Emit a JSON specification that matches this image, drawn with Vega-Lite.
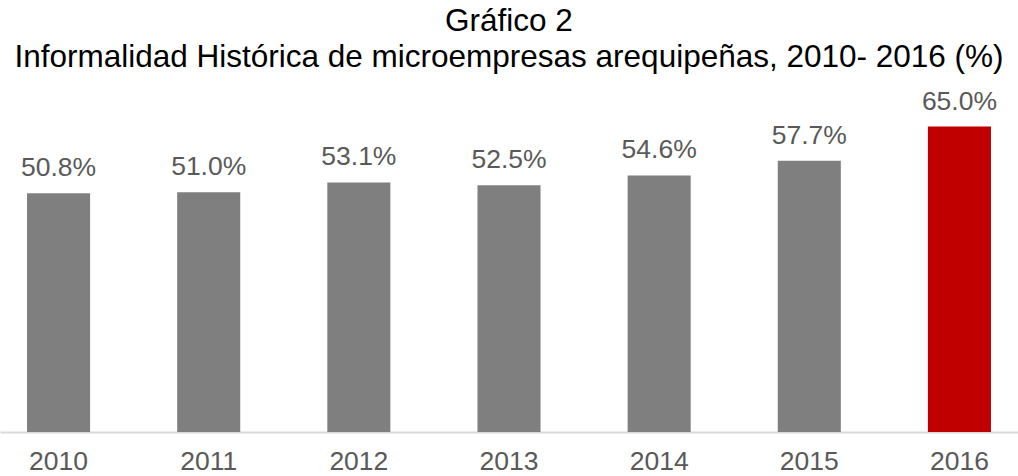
{
  "$schema": "https://vega.github.io/schema/vega-lite/v6.json",
  "autosize": "none",
  "width": 1018,
  "height": 329,
  "padding": {"left": 0, "top": 103, "right": 0, "bottom": 44},
  "background": "white",
  "config": {"view": {"stroke": null}, "font": "Liberation Sans"},
  "title": {
    "text": ["Gráfico 2", "Informalidad Histórica de microempresas arequipeñas, 2010- 2016 (%)"],
    "anchor": "middle",
    "frame": "group",
    "font": "Liberation Sans",
    "fontSize": 31.5,
    "fontWeight": "normal",
    "color": "#000000",
    "lineHeight": 36,
    "offset": 15
  },
  "data": {
    "values": [
      {"year": "2010", "value": 50.8, "label": "50.8%", "highlight": "no"},
      {"year": "2011", "value": 51.0, "label": "51.0%", "highlight": "no"},
      {"year": "2012", "value": 53.1, "label": "53.1%", "highlight": "no"},
      {"year": "2013", "value": 52.5, "label": "52.5%", "highlight": "no"},
      {"year": "2014", "value": 54.6, "label": "54.6%", "highlight": "no"},
      {"year": "2015", "value": 57.7, "label": "57.7%", "highlight": "no"},
      {"year": "2016", "value": 65.0, "label": "65.0%", "highlight": "yes"}
    ]
  },
  "encoding": {
    "x": {
      "field": "year",
      "type": "ordinal",
      "scale": {"paddingInner": 0.58, "paddingOuter": 0.18},
      "axis": {
        "title": null,
        "labelAngle": 0,
        "labelFont": "Liberation Sans",
        "labelFontSize": 26.5,
        "labelColor": "#595959",
        "labelPadding": 16,
        "ticks": false,
        "domainColor": "#d9d9d9",
        "domainWidth": 2,
        "grid": false
      }
    },
    "y": {
      "field": "value",
      "type": "quantitative",
      "scale": {"domain": [0, 70]},
      "axis": null
    }
  },
  "layer": [
    {
      "mark": {"type": "bar"},
      "encoding": {
        "color": {
          "field": "highlight",
          "type": "nominal",
          "scale": {"domain": ["no", "yes"], "range": ["#7f7f7f", "#c00000"]},
          "legend": null
        }
      }
    },
    {
      "mark": {"type": "text", "baseline": "alphabetic", "dy": -17, "font": "Liberation Sans", "fontSize": 26.5, "color": "#595959"},
      "encoding": {"text": {"field": "label"}}
    }
  ]
}
